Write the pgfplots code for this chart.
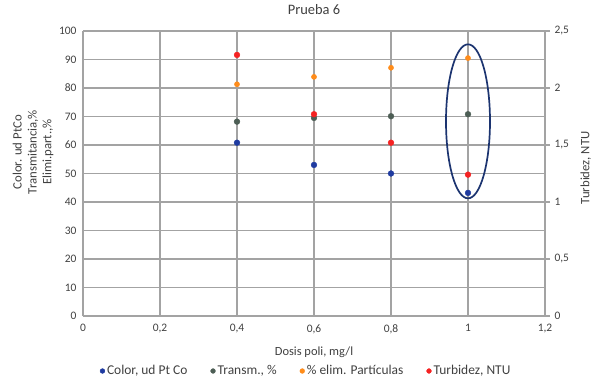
\documentclass[border=0pt]{standalone}
\usepackage{fontspec}
\setmainfont{Carlito}
\usepackage{pgfplots}
\pgfplotsset{compat=1.18}
\definecolor{cblue}{HTML}{1F3BA0}
\definecolor{cgray}{HTML}{4D5E55}
\definecolor{corange}{HTML}{FF8C1A}
\definecolor{cred}{HTML}{F52222}
\definecolor{cnavy}{HTML}{1C3470}
\definecolor{gridc}{HTML}{A3A3A3}
\definecolor{txt}{HTML}{404040}
\begin{document}
\begin{tikzpicture}
\pgfplotsset{
  every axis/.append style={
    scale only axis, width=462bp, height=285bp,
    xmin=0, xmax=1.2,
    /pgf/number format/assume math mode=true,
    /pgf/number format/use comma,
  },
}
\begin{axis}[
  ymin=0, ymax=100,
  xtick={0,0.2,...,1.2},
  ytick={0,10,...,100},
  grid=major,
  grid style={gridc, line width=1.3bp},
  axis line style={gridc, line width=1.3bp},
  axis x line*=bottom, axis y line*=left,
  major tick length=0pt,
  tick label style={font=\fontsize{11.5}{13}\selectfont, text=txt},
  xticklabel style={yshift=-5bp},
  yticklabel style={xshift=-3bp},
  xticklabel={\pgfmathprintnumber[fixed,precision=1,use comma]{\tick}},
  xlabel={Dosis poli, mg/l},
  xlabel style={font=\fontsize{12.5}{14}\selectfont, text=txt, at={(axis description cs:0.5,-0.126)}, anchor=center},
  ylabel={Color. ud PtCo\\Transmitancia,\%\\Elimi.part.,\%},
  ylabel style={font=\fontsize{12.8}{15}\selectfont, text=txt, align=center, at={(axis description cs:-0.108,0.575)}, anchor=center, rotate=0},
  title={Prueba 6},
  title style={font=\fontsize{14.5}{16}\selectfont, text=txt, at={(axis description cs:0.5,1.056)}, anchor=center},
  legend style={at={(axis description cs:0.483,-0.193)}, anchor=center, draw=none, fill=none,
    legend columns=4, font=\fontsize{13.5}{15}\selectfont, text=txt,
    /tikz/every even column/.append style={column sep=21bp}},
  legend cell align=left,
  legend image code/.code={\fill[#1] (0.1cm,0cm) circle (2.4bp);},
]
\addplot[only marks, mark=*, mark size=2.9bp, cblue, mark options={draw=cblue, fill=cblue}]
  coordinates {(0.4,60.8) (0.6,53.0) (0.8,50.0) (1.0,43.2)};
\addlegendentry{Color, ud Pt Co}
\addplot[only marks, mark=*, mark size=2.9bp, cgray, mark options={draw=cgray, fill=cgray}]
  coordinates {(0.4,68.2) (0.6,69.5) (0.8,70.1) (1.0,70.8)};
\addlegendentry{Transm., \%}
\addplot[only marks, mark=*, mark size=2.6bp, corange, mark options={draw=corange, fill=corange}]
  coordinates {(0.4,81.3) (0.6,83.9) (0.8,87.1) (1.0,90.5)};
\addlegendentry{\% elim. Partículas}
\addlegendimage{cred}
\addlegendentry{Turbidez, NTU}
\draw[cnavy, line width=1.7bp] (axis cs:1,68.3) ellipse [x radius=22bp, y radius=77bp];
\end{axis}
\begin{axis}[
  ymin=0, ymax=2.5,
  ytick={0,0.5,...,2.5},
  axis x line=none,
  axis y line*=right,
  axis line style={gridc, line width=1.3bp},
  tick style={gridc, line width=1.3bp},
  tick align=outside, major tick length=5bp,
  yticklabel style={font=\fontsize{11.5}{13}\selectfont, text=txt, xshift=1bp},
  yticklabel={\pgfmathprintnumber[fixed,precision=1,use comma]{\tick}},
  ylabel={Turbidez, NTU},
  ylabel style={font=\fontsize{12.8}{15}\selectfont, text=txt, at={(axis description cs:1.088,0.52)}, anchor=center, rotate=0},
]
\addplot[only marks, mark=*, mark size=2.9bp, cred, mark options={draw=cred, fill=cred}]
  coordinates {(0.4,2.29) (0.6,1.77) (0.8,1.52) (1.0,1.24)};
\end{axis}
\pgfresetboundingbox
\path (-83bp,-64bp) rectangle (520bp,316bp);
\end{tikzpicture}
\end{document}
